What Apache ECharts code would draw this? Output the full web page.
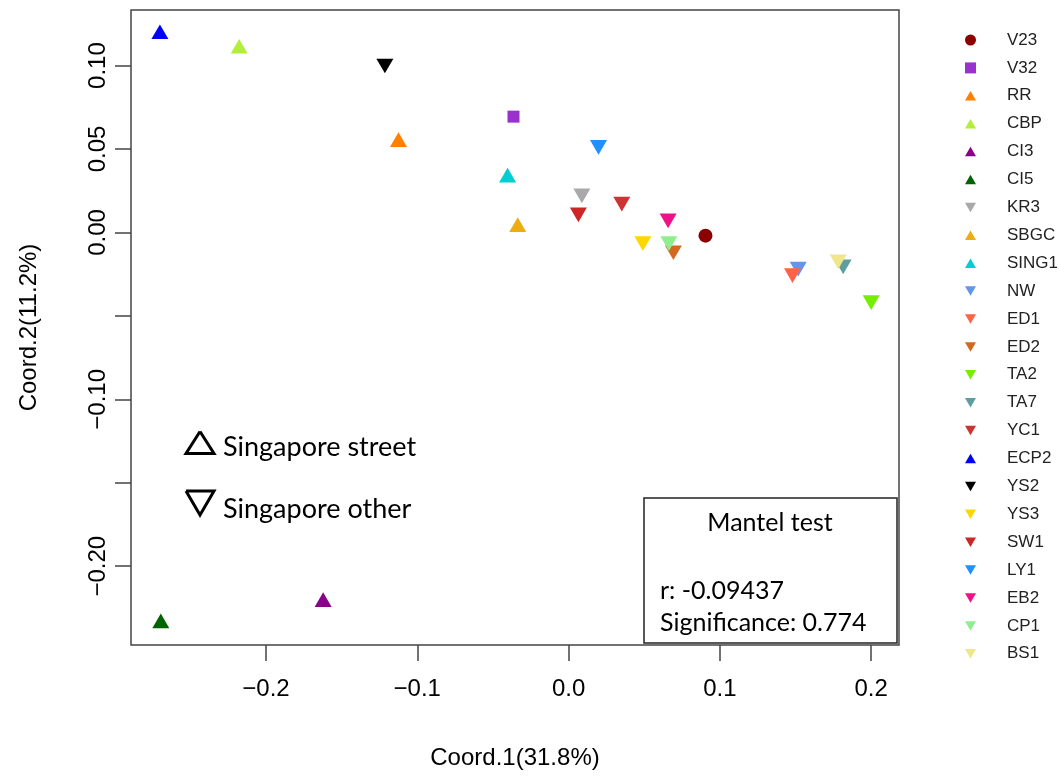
<!DOCTYPE html>
<html><head><meta charset="utf-8">
<script src="https://cdn.jsdelivr.net/npm/echarts@6/dist/echarts.min.js"></script>
<style>html,body{margin:0;padding:0;background:#fff}#c{width:1059px;height:778px}</style>
</head><body><div id="c"></div>
<script>
// ---- data ----
const sampleNames = ['V23','V32','RR','CBP','CI3','CI5','KR3','SBGC','SING1','NW','ED1','ED2','TA2','TA7','YC1','ECP2','YS2','YS3','SW1','LY1','EB2','CP1','BS1'];
const coord1 = [0.0905,-0.0364,-0.1124,-0.2177,-0.1622,-0.2695,0.0088,-0.0336,-0.0403,0.1518,0.1480,0.0693,0.2000,0.1815,0.0352,-0.2701,-0.1214,0.0491,0.0065,0.0198,0.0658,0.0663,0.1782];
const coord2 = [-0.0019,0.0694,0.0542,0.1101,-0.2215,-0.2342,0.0234,0.0032,0.0329,-0.0205,-0.0244,-0.0107,-0.0406,-0.0191,0.0184,0.1188,0.1012,-0.0052,0.0120,0.0524,0.0084,-0.0052,-0.0161];
const shapes = ['circle','square','up','up','up','up','down','up','up','down','down','down','down','down','down','up','down','down','down','down','down','down','down'];
const colors = ['#8B0000','#9932CC','#FF7F00','#B3EE3A','#8B008B','#006400','#A9A9A9','#EEAD0E','#00CED1','#6495ED','#FF6347','#D2691E','#76EE00','#5F9EA0','#CD3333','#0000FF','#000000','#FFD700','#CD2626','#1E90FF','#EE1289','#90EE90','#F0E68C'];
const xTicks = [-0.2,-0.1,0,0.1,0.2];
const yTicks = [-0.20,-0.15,-0.10,-0.05,0,0.05,0.10];
const yLabelValues = [-0.20,-0.10,0,0.05,0.10];
const xRange = [-0.2892, 0.2184];
const yRange = [-0.2472, 0.1333];
const xTitle = 'Coord.1(31.8%)';
const yTitle = 'Coord.2(11.2%)';
const groupLabels = ['Singapore street','Singapore other'];
const mantelTitle = 'Mantel test';
const mantelLines = ['r: -0.09437','Significance: 0.774'];

// ---- styles ----
const UP = 'path://M1,0L2,1.732L0,1.732Z';
const DOWN = 'path://M0,0L2,0L1,1.732Z';
function sym(s){return s==='circle'?'circle':s==='square'?'rect':s==='up'?UP:DOWN;}
function symSize(s){return s==='circle'?14:s==='square'?12:[17,14.7];}
function symOff(s){return s==='up'?[0,-2.45]:s==='down'?[0,2.45]:[0,0];}
const AX = 'Liberation Sans, Arial, sans-serif';
const ANN = 'Lato, sans-serif';

const chart = echarts.init(document.getElementById('c'), null, {renderer:'canvas'});
chart.setOption({
  animation:false,
  backgroundColor:'#fff',
  grid:{left:131, right:160, top:10, bottom:133, show:true, borderColor:'#444', borderWidth:1.5, backgroundColor:'transparent'},
  xAxis:{
    type:'value', min:xRange[0], max:xRange[1],
    axisLine:{show:false, onZero:false}, splitLine:{show:false},
    axisTick:{show:true, length:16, customValues:xTicks, lineStyle:{color:'#444', width:1.5}},
    axisLabel:{customValues:xTicks, margin:32, fontSize:24, fontFamily:AX, color:'#000',
      formatter:v=>(v < -1e-9 ? '\u2212' : '') + Math.abs(v).toFixed(1)},
    name:xTitle, nameLocation:'middle', nameGap:101,
    nameTextStyle:{fontSize:24, fontFamily:AX, color:'#000'}
  },
  yAxis:{
    type:'value', min:yRange[0], max:yRange[1],
    axisLine:{show:false, onZero:false}, splitLine:{show:false},
    axisTick:{show:true, length:16, customValues:yTicks, lineStyle:{color:'#444', width:1.5}},
    axisLabel:{customValues:yLabelValues, rotate:90, margin:21, fontSize:24, fontFamily:AX, color:'#000',
      formatter:v=>(v < -1e-9 ? '\u2212' : '') + Math.abs(v).toFixed(2)},
    name:yTitle, nameLocation:'middle', nameGap:90,
    nameTextStyle:{fontSize:24, fontFamily:AX, color:'#000'}
  },
  legend:{
    orient:'vertical', left:965, top:31.5, padding:0, itemGap:10.9,
    itemWidth:11, itemHeight:11, data:sampleNames,
    textStyle:{fontSize:17, lineHeight:17, fontFamily:AX, color:'#222', padding:[0,0,0,26]},
    selectedMode:false
  },
  series: sampleNames.map((n,i)=>({
    name:n, type:'scatter', data:[[coord1[i], coord2[i]]],
    symbol:sym(shapes[i]), symbolSize:symSize(shapes[i]), symbolOffset:symOff(shapes[i]),
    itemStyle:{color:colors[i], opacity:1}, emphasis:{disabled:true}, silent:true
  })),
  graphic:[
    {type:'polyline', shape:{points:[[200,431.5],[214,453.5],[186,453.5],[200,431.5]]}, style:{stroke:'#000', lineWidth:3, fill:null, lineJoin:'miter'}},
    {type:'polyline', shape:{points:[[186,491],[214,491],[200,515],[186,491]]}, style:{stroke:'#000', lineWidth:3, fill:null, lineJoin:'miter'}},
    {type:'text', left:223, top:434, style:{text:groupLabels[0], font:'27px '+ANN, fill:'#000'}},
    {type:'text', left:223, top:496, style:{text:groupLabels[1], font:'27px '+ANN, fill:'#000'}},
    {type:'rect', shape:{x:644, y:498, width:253, height:145}, style:{stroke:'#222', lineWidth:1.5, fill:'#fff'}},
    {type:'text', x:770, y:510, style:{text:mantelTitle, font:'25px '+ANN, fill:'#000', textAlign:'center'}},
    {type:'text', x:660, y:578, style:{text:mantelLines[0], font:'25px '+ANN, fill:'#000'}},
    {type:'text', x:660, y:610, style:{text:mantelLines[1], font:'25px '+ANN, fill:'#000'}}
  ]
});
</script></body></html>
